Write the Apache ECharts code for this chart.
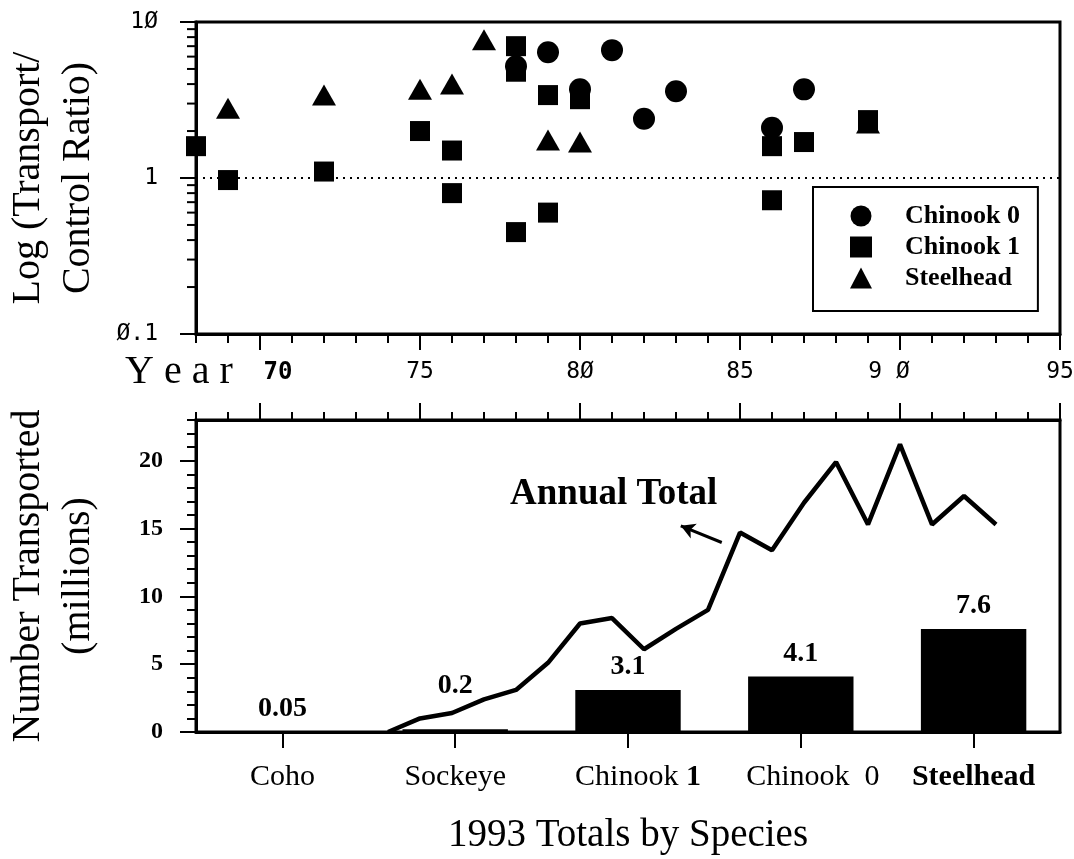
<!DOCTYPE html>
<html><head><meta charset="utf-8">
<script src="https://cdn.jsdelivr.net/npm/echarts@6/dist/echarts.min.js"></script>
<style>html,body{margin:0;padding:0;background:#fff}#c{width:1074px;height:859px}</style>
</head><body><div id="c"></div>
<script>
// ---- data ----
const chinook0 = [[78,5.2],[79,6.4],[80,3.7],[81,6.6],[82,2.4],[83,3.6],[86,2.1],[87,3.7]];
const chinook1 = [[68,1.6],[69,0.97],[72,1.1],[75,2.0],[76,1.5],[76,0.8],[78,7.0],[78,4.8],[78,0.45],[79,3.4],[79,0.6],[80,3.2],[86,1.6],[86,0.72],[87,1.7],[89,2.35]];
const steelhead = [[69,2.8],[72,3.4],[75,3.7],[76,4.0],[77,7.7],[79,1.75],[80,1.7],[89,2.25]];
const speciesCategories = ['Coho','Sockeye','Chinook 1','Chinook 0','Steelhead'];
const totals1993 = [0.05,0.2,3.1,4.1,7.6];
const annualYears  = [74,75,76,77,78,79,80,81,82,83,84,85,86,87,88,89,90,91,92,93];
const annualTotals = [0,1.0,1.4,2.4,3.1,5.1,8.0,8.4,6.1,7.6,9.0,14.7,13.4,16.9,19.9,15.3,21.2,15.3,17.4,15.3];
const yearTickValues = [70,75,80,85,90,95];
const yearTickLabels = ['70','75','8Ø','85','9 Ø','95'];
const ratioTickValues = [0.1,1,10];
const ratioTickLabels = ['Ø.1','1','1Ø'];
const ratioMinorValues = [0.2,0.3,0.4,0.5,0.6,0.7,0.8,0.9,2,3,4,5,6,7,8,9];
const arrowFrom = [84.43,13.97];
const arrowTo = [83.15,15.2];

const SERIF = '"Liberation Serif","Times New Roman",serif';
const MONO = '"DejaVu Sans Mono",monospace';
const BLK = '#000';

const chart = echarts.init(document.getElementById('c'), null, {renderer:'canvas', width:1074, height:859});

function yearLabel(v){
  const i = yearTickValues.indexOf(Math.round(v));
  const t = i >= 0 ? yearTickLabels[i] : String(v);
  if (Math.round(v) === 70) return '{b|' + t + '}';
  if (Math.round(v) === 90) return '{l|' + t + '}';
  return '{n|' + t + '}';
}

const option = {
  animation: false,
  backgroundColor: '#fff',
  grid: [
    {left:196, top:22, width:864, height:312, show:true, borderColor:BLK, borderWidth:3, containLabel:false, outerBoundsMode:'none'},
    {left:196, top:420, width:864, height:312, show:true, borderColor:BLK, borderWidth:3, containLabel:false, outerBoundsMode:'none'}
  ],
  legend: {
    data: [{name:'Chinook 0', icon:'circle'},{name:'Chinook 1', icon:'rect'},{name:'Steelhead', icon:'triangle'}],
    orient:'vertical', left:813, top:187,
    borderColor:BLK, borderWidth:2, padding:[16,18,20,37],
    itemWidth:22, itemHeight:21, itemGap:5,
    textStyle:{fontFamily:SERIF, fontWeight:'bold', fontSize:26, color:BLK, padding:[0,0,0,28]}
  },
  xAxis: [
    { // 0 top plot year axis (major)
      type:'value', gridIndex:0, position:'bottom', min:68, max:95,
      axisLine:{show:true, onZero:false, lineStyle:{color:BLK, width:3}},
      axisTick:{show:true, inside:false, length:16, customValues:yearTickValues, lineStyle:{color:BLK, width:2}},
      axisLabel:{show:true, customValues:yearTickValues, margin:27, formatter:yearLabel,
        fontFamily:MONO, fontSize:23, color:BLK,
        rich:{
          n:{fontFamily:MONO, fontSize:23, color:BLK},
          b:{fontFamily:MONO, fontSize:24, fontWeight:'bold', color:BLK, padding:[0,0,0,36]},
          l:{fontFamily:MONO, fontSize:23, color:BLK, padding:[0,22,0,0]}
        }},
      splitLine:{show:false}
    },
    { // 1 top plot year axis (minor ticks)
      type:'value', gridIndex:0, position:'bottom', min:68, max:95, interval:1,
      axisLine:{show:false, onZero:false}, axisTick:{show:true, length:9, lineStyle:{color:BLK, width:2}},
      axisLabel:{show:false}, splitLine:{show:false}
    },
    { // 2 bottom plot species categories
      type:'category', gridIndex:1, position:'bottom', data:speciesCategories, boundaryGap:true,
      axisLine:{show:true, onZero:false, lineStyle:{color:BLK, width:3}},
      axisTick:{show:true, alignWithLabel:true, length:16, lineStyle:{color:BLK, width:2}},
      axisLabel:{interval:0, margin:30, fontFamily:SERIF, fontSize:30, color:BLK,
        formatter: v => v === 'Chinook 1' ? '{p|Chinook }{b|1}' : (v === 'Steelhead' ? '{b|Steelhead}' : (v === 'Chinook 0' ? '{q|Chinook  0}' : '{r|' + v + '}')),
        rich:{
          r:{fontFamily:SERIF, fontSize:30, color:BLK},
          p:{fontFamily:SERIF, fontSize:30, color:BLK, padding:[0,0,0,20]},
          q:{fontFamily:SERIF, fontSize:30, color:BLK, padding:[0,0,0,24]},
          b:{fontFamily:SERIF, fontSize:30, fontWeight:'bold', color:BLK}
        }},
      name:'1993 Totals by Species', nameLocation:'middle', nameGap:84,
      nameTextStyle:{fontFamily:SERIF, fontSize:39, color:BLK},
      splitLine:{show:false}
    },
    { // 3 bottom plot year axis (major)
      type:'value', gridIndex:1, position:'top', min:68, max:95,
      axisLine:{show:true, onZero:false, lineStyle:{color:BLK, width:3}},
      axisTick:{show:true, inside:false, length:17, customValues:yearTickValues, lineStyle:{color:BLK, width:2}},
      axisLabel:{show:false}, splitLine:{show:false}
    },
    { // 4 bottom plot year axis (minor)
      type:'value', gridIndex:1, position:'top', min:68, max:95, interval:1,
      axisLine:{show:false, onZero:false}, axisTick:{show:true, length:8, lineStyle:{color:BLK, width:2}},
      axisLabel:{show:false}, splitLine:{show:false}
    }
  ],
  yAxis: [
    { // 0 top plot log ratio
      type:'log', logBase:10, gridIndex:0, position:'left', min:0.1, max:10,
      axisLine:{show:true, onZero:false, lineStyle:{color:BLK, width:3}},
      axisTick:{show:true, length:16, lineStyle:{color:BLK, width:2}},
      axisLabel:{show:true, margin:38, fontFamily:MONO, fontSize:23, color:BLK,
        formatter: v => { const i = Math.round(Math.log10(v)) + 1; return ratioTickLabels[i] !== undefined ? ratioTickLabels[i] : String(v); }},
      splitLine:{show:false},
      name:'Log (Transport/\nControl Ratio)', nameLocation:'middle', nameGap:93, nameRotate:90,
      nameTextStyle:{fontFamily:SERIF, fontSize:40, lineHeight:50, color:BLK, align:'center'}
    },
    { // 1 bottom plot numbers (major)
      type:'value', gridIndex:1, position:'left', min:0, max:23, interval:5,
      axisLine:{show:true, onZero:false, lineStyle:{color:BLK, width:3}},
      axisTick:{show:true, length:16, lineStyle:{color:BLK, width:2}},
      axisLabel:{show:true, margin:33, showMaxLabel:false, fontFamily:SERIF, fontWeight:'bold', fontSize:24, color:BLK},
      splitLine:{show:false},
      name:'Number Transported\n(millions)', nameLocation:'middle', nameGap:93, nameRotate:90,
      nameTextStyle:{fontFamily:SERIF, fontSize:40, lineHeight:50, color:BLK, align:'center'}
    },
    { // 2 bottom plot numbers (minor)
      type:'value', gridIndex:1, position:'left', min:0, max:23, interval:1,
      axisLine:{show:false, onZero:false}, axisTick:{show:true, length:9, lineStyle:{color:BLK, width:2}},
      axisLabel:{show:false}, splitLine:{show:false}
    }
  ],
  series: [
    { name:'Steelhead', type:'scatter', xAxisIndex:0, yAxisIndex:0, data:steelhead,
      symbol:'triangle', symbolSize:[24,21], itemStyle:{color:BLK, opacity:1} },
    { name:'Chinook 1', type:'scatter', xAxisIndex:0, yAxisIndex:0, data:chinook1,
      symbol:'rect', symbolSize:20, itemStyle:{color:BLK, opacity:1},
      markLine:{silent:true, symbol:'none', label:{show:false},
        lineStyle:{color:BLK, width:2, type:[2,5]}, data:[{yAxis:1}]} },
    { name:'Chinook 0', type:'scatter', xAxisIndex:0, yAxisIndex:0, data:chinook0,
      symbol:'circle', symbolSize:22, itemStyle:{color:BLK, opacity:1} },
    { name:'1993 Totals', type:'bar', xAxisIndex:2, yAxisIndex:1,
      data: totals1993.map((v,i) => i === 1 ? {value:v, label:{distance:30}} : v),
      barWidth:'61%', itemStyle:{color:BLK},
      label:{show:true, position:'top', distance:9, fontFamily:SERIF, fontWeight:'bold', fontSize:28, color:BLK,
        formatter: p => String(p.value)} },
    { name:'Annual Total', type:'line', xAxisIndex:3, yAxisIndex:1,
      data: annualYears.map((y,i) => [y, annualTotals[i]]),
      symbol:'none', lineStyle:{color:BLK, width:4.5}, z:3,
      markLine:{silent:true, symbol:['none','arrow'], symbolSize:[12,14], label:{show:false},
        lineStyle:{color:BLK, width:3, type:'solid'},
        data:[[{coord:arrowFrom},{coord:arrowTo}]]} }
  ]
};
chart.setOption(option);

// texts + log-axis minor ticks (2..9 within each decade), placed through the grid's scales
const graphicEls = [
  {id:'yearTxt', type:'text', left:125, top:352, style:{text:'Y e a r', font:'40px ' + SERIF, fill:BLK}},
  {id:'annTxt', type:'text', left:510, top:476, style:{text:'Annual Total', font:'bold 37px ' + SERIF, fill:BLK}}
];
ratioMinorValues.forEach((v,i) => {
  const p = chart.convertToPixel({gridIndex:0}, [68, v]);
  if (p && isFinite(p[0]) && isFinite(p[1])) {
    graphicEls.push({id:'lm'+i, type:'line', z:100, zlevel:1,
      shape:{x1:p[0]-9, y1:p[1], x2:p[0], y2:p[1]}, style:{stroke:BLK, lineWidth:2}});
  }
});
chart.setOption({graphic: graphicEls});
</script></body></html>
